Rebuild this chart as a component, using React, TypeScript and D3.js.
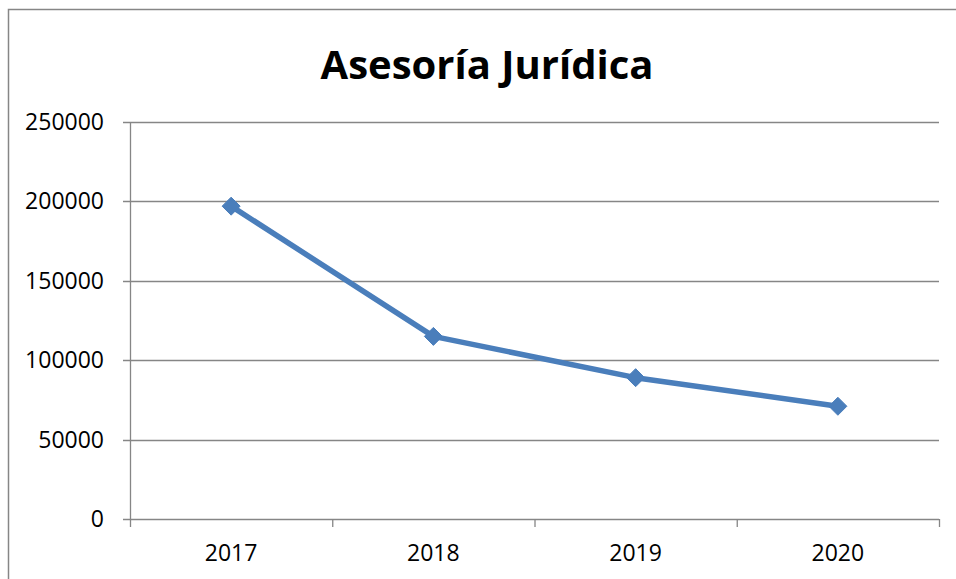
import React from "react";
import * as d3 from "d3";

const categories = ["2017", "2018", "2019", "2020"];
const values = [197000, 115000, 89000, 71000];
const yTicks = [0, 50000, 100000, 150000, 200000, 250000];
const title = "Asesoría Jurídica";

export default function App() {
  const W = 956, H = 579;
  const left = 130, right = 939, top = 122, bottom = 519;
  const x = d3.scaleBand<string>().domain(categories).range([left, right]);
  const y = d3.scaleLinear().domain([0, 250000]).range([bottom, top]);
  const line = d3.line<number>()
    .x((_, i) => (x(categories[i]) as number) + x.bandwidth() / 2)
    .y((d) => y(d));
  const grid = "#868686";
  const blue = "#4a7ebb";
  const font = "'Open Sans', 'Noto Sans', sans-serif";
  const boundaries = [...categories.map((c) => x(c) as number), right];
  const ds = 9;
  return (
    <svg width={W} height={H} style={{ position: "absolute", left: 0, top: 0, background: "#fff" }}>
      <rect x={8.5} y={9.5} width={1000} height={700} fill="#fff" stroke={grid} strokeWidth={1.5} />
      <text x={487} y={79} textAnchor="middle" fontFamily={font} fontWeight={700} fontSize={40} fill="#000">{title}</text>
      {yTicks.map((t) => (
        <g key={t}>
          <line x1={left - 7} x2={right} y1={Math.round(y(t)) + 0.5} y2={Math.round(y(t)) + 0.5} stroke={grid} strokeWidth={1.3} />
          <text x={104} y={y(t)} dy="0.35em" textAnchor="end" fontFamily={font} fontSize={23} fill="#000">{t}</text>
        </g>
      ))}
      <line x1={left + 0.5} x2={left + 0.5} y1={top} y2={bottom + 8} stroke={grid} strokeWidth={1.3} />
      {boundaries.slice(1).map((b, i) => (
        <line key={i} x1={b + 0.5} x2={b + 0.5} y1={bottom} y2={bottom + 8} stroke={grid} strokeWidth={1.3} />
      ))}
      {categories.map((c) => (
        <text key={c} x={(x(c) as number) + x.bandwidth() / 2} y={561} textAnchor="middle" fontFamily={font} fontSize={23} fill="#000">{c}</text>
      ))}
      <path d={line(values) || ""} fill="none" stroke={blue} strokeWidth={5.5} strokeLinejoin="round" />
      {values.map((v, i) => {
        const cx = (x(categories[i]) as number) + x.bandwidth() / 2;
        const cy = y(v);
        return (
          <path key={i} d={`M${cx},${cy - ds}L${cx + ds},${cy}L${cx},${cy + ds}L${cx - ds},${cy}Z`} fill={blue} stroke={blue} strokeWidth={1} />
        );
      })}
    </svg>
  );
}
